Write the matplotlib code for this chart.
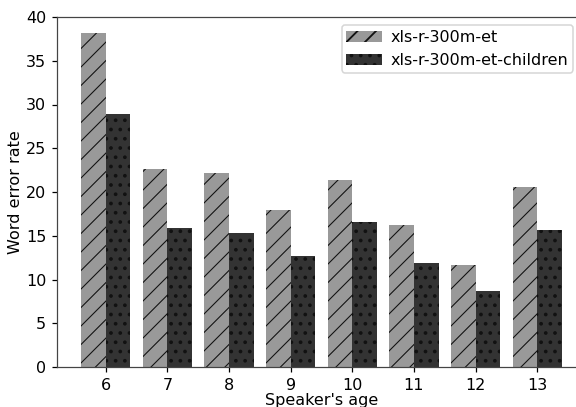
import numpy as np
import matplotlib.pyplot as plt

ages = [6, 7, 8, 9, 10, 11, 12, 13]
wer_base = [38.2, 22.6, 22.2, 17.9, 21.4, 16.2, 11.7, 20.6]
wer_children = [28.9, 15.9, 15.3, 12.7, 16.6, 11.9, 8.7, 15.7]

DPI = 111
plt.rcParams['hatch.color'] = '#111111'
plt.rcParams['font.size'] = 10.4

fig = plt.figure(figsize=(576 / DPI, 407 / DPI), dpi=DPI)
# axes runs slightly past the right edge, as in the reference crop
ax = fig.add_axes([57 / 576, 40 / 407, 529 / 576, 350 / 407])

x = np.array(ages)
w = 0.4
plt.rcParams['hatch.linewidth'] = 0.7
b1 = ax.bar(x - w / 2, wer_base, w, color='#999999', hatch='//', label='xls-r-300m-et')
plt.rcParams['hatch.linewidth'] = 1.2
b2 = ax.bar(x + w / 2, wer_children, w, color='#333333', hatch='..', label='xls-r-300m-et-children')

# make sure each set keeps its own hatch width
for bars, lw in ((b1, 0.7), (b2, 1.2)):
    for p in bars:
        if hasattr(p, 'set_hatch_linewidth'):
            p.set_hatch_linewidth(lw)

ax.set_xticks(ages)
ax.set_ylim(0, 40)
ax.set_xlabel("Speaker's age", labelpad=0)
ax.set_ylabel('Word error rate', labelpad=2)
for s in ax.spines.values():
    s.set_color('#444444')

ax.legend(loc='upper right', bbox_to_anchor=((573 - 57) / 529, (367 - 25) / 350),
          borderaxespad=0, handlelength=2.2, borderpad=0.3, handletextpad=0.55)

fig.savefig('out.png', dpi=DPI)
